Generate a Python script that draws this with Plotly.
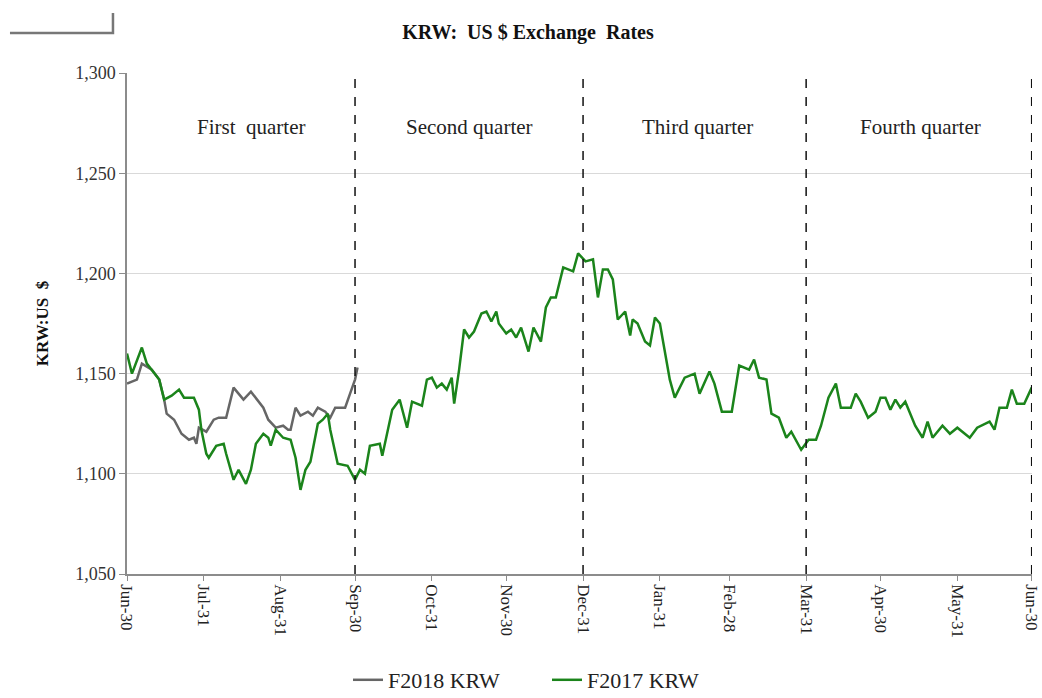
import pandas as pd
import plotly.graph_objects as go

# ---- data ----
start_date = "2016-06-30"

f2017_days = [0, 2, 6, 8, 13, 15, 18, 21, 23, 27, 29, 30, 32, 33, 36, 39, 40, 43, 45, 48, 50, 52, 55, 57, 58, 60,
              63, 66, 68, 70, 72, 74, 77, 79, 81, 82, 85, 89, 92, 94, 96, 98, 102, 103, 107, 110, 113, 115, 119,
              121, 123, 125, 127, 129, 131, 132, 134, 136, 138, 140, 143, 145, 147, 149, 150, 153, 155, 157, 159,
              162, 164, 167, 169, 171, 173, 176, 180, 182, 185, 188, 190, 192, 194, 196, 198, 201, 203, 204, 206,
              209, 211, 213, 215, 219, 221, 225, 229, 231, 235, 237, 240, 244, 247, 251, 253, 255, 258, 260, 263,
              266, 268, 272, 275, 278, 280, 283, 286, 288, 292, 294, 296, 299, 302, 304, 306, 308, 310, 312, 314,
              318, 321, 323, 325, 329, 332, 335, 340, 343, 348, 350, 352, 355, 357, 359, 362, 365]
f2017_krw = [1160, 1150, 1163, 1155, 1147, 1137, 1139, 1142, 1138, 1138, 1132, 1122, 1110, 1108, 1114, 1115, 1110,
             1097, 1102, 1095, 1102, 1115, 1120, 1118, 1114, 1122, 1118, 1117, 1108, 1092, 1102, 1106, 1125, 1127,
             1130, 1122, 1105, 1104, 1097, 1102, 1100, 1114, 1115, 1109, 1132, 1137, 1123, 1136, 1134, 1147, 1148,
             1143, 1145, 1142, 1148, 1135, 1152, 1172, 1168, 1171, 1180, 1181, 1176, 1181, 1175, 1170, 1172, 1168,
             1173, 1161, 1173, 1166, 1183, 1188, 1188, 1203, 1201, 1210, 1206, 1207, 1188, 1202, 1202, 1197, 1177,
             1181, 1169, 1177, 1175, 1166, 1164, 1178, 1175, 1147, 1138, 1148, 1150, 1140, 1151, 1145, 1131, 1131,
             1154, 1152, 1157, 1148, 1147, 1130, 1128, 1118, 1121, 1112, 1117, 1117, 1124, 1138, 1145, 1133, 1133,
             1140, 1136, 1128, 1131, 1138, 1138, 1132, 1137, 1133, 1136, 1124, 1118, 1126, 1118, 1124, 1120, 1123,
             1118, 1123, 1126, 1122, 1133, 1133, 1142, 1135, 1135, 1143]

f2018_days = [0, 4, 6, 10, 13, 15, 16, 19, 22, 25, 27, 28, 29, 32, 35, 37, 40, 43, 45, 47, 50, 52, 55, 57, 60,
              63, 65, 66, 68, 70, 73, 75, 77, 80, 82, 84, 88, 90, 92, 93]
f2018_krw = [1145, 1147, 1155, 1152, 1147, 1137, 1130, 1127, 1120, 1117, 1118, 1115, 1123, 1121, 1127, 1128, 1128,
             1143, 1140, 1137, 1141, 1138, 1133, 1127, 1123, 1124, 1122, 1122, 1133, 1129, 1131, 1129, 1133, 1131,
             1128, 1133, 1133, 1140, 1147, 1153]

tick_dates = ["2016-06-30", "2016-07-31", "2016-08-31", "2016-09-30", "2016-10-31", "2016-11-30", "2016-12-31",
              "2017-01-31", "2017-02-28", "2017-03-31", "2017-04-30", "2017-05-31", "2017-06-30"]
tick_labels = ["Jun-30", "Jul-31", "Aug-31", "Sep-30", "Oct-31", "Nov-30", "Dec-31",
               "Jan-31", "Feb-28", "Mar-31", "Apr-30", "May-31", "Jun-30"]
quarter_ends = ["2016-09-30", "2016-12-31", "2017-03-31", "2017-06-30"]
quarter_labels = ["First  quarter", "Second quarter", "Third quarter", "Fourth quarter"]
quarter_label_pos = ["2016-08-19", "2016-11-15", "2017-02-15", "2017-05-16"]
y_ticks = [1050, 1100, 1150, 1200, 1250, 1300]

# ---- build ----
t0 = pd.Timestamp(start_date)
x2017 = t0 + pd.to_timedelta(f2017_days, unit="D")
x2018 = t0 + pd.to_timedelta(f2018_days, unit="D")

SERIF = "Liberation Serif, Times New Roman, serif"
PLOT_W = 1042 - 127 - 10

fig = go.Figure()
fig.add_trace(go.Scatter(x=x2018, y=f2018_krw, mode="lines", name="F2018 KRW", cliponaxis=False,
                         line=dict(color="#666666", width=2.5)))
fig.add_trace(go.Scatter(x=x2017, y=f2017_krw, mode="lines", name="F2017 KRW", cliponaxis=False,
                         line=dict(color="#1b841b", width=2.5)))

for q in quarter_ends:
    fig.add_shape(type="line", xref="x", yref="paper", x0=q, x1=q, y0=0, y1=1,
                  line=dict(color="#111111", width=1.5, dash="dash"), layer="above")

for lbl, pos in zip(quarter_labels, quarter_label_pos):
    fig.add_annotation(x=pos, y=1273, xref="x", yref="y", text=lbl, showarrow=False,
                       font=dict(family=SERIF, size=21, color="#222222"))

# small decorative corner line at top-left
fig.add_shape(type="path", xref="paper", yref="paper",
              path=f"M {(10 - 127) / PLOT_W:.4f} 1.08 L {(113 - 127) / PLOT_W:.4f} 1.08 L {(113 - 127) / PLOT_W:.4f} 1.12",
              line=dict(color="#777777", width=2.5))

fig.update_layout(
    width=1042, height=698,
    margin=dict(l=127, r=10, t=73, b=124, autoexpand=False),
    paper_bgcolor="white", plot_bgcolor="white",
    title=dict(text="<b>KRW:  US $ Exchange  Rates</b>", x=(528 - 127) / PLOT_W, xref="paper", xanchor="center",
               y=1 - 32 / 698, yanchor="middle", font=dict(family=SERIF, size=20, color="#111111")),
    showlegend=True,
    legend=dict(orientation="h", x=(348 - 127) / PLOT_W, xanchor="left", xref="paper",
                y=1 - 680 / 698, yref="container", yanchor="middle",
                entrywidth=154, entrywidthmode="pixels",
                font=dict(family=SERIF, size=22, color="#222222")),
    xaxis=dict(type="date", range=[tick_dates[0], "2017-06-30 03:00"], tickmode="array",
               tickvals=tick_dates, ticktext=tick_labels, tickangle=90, automargin=False,
               ticklabeloverflow="allow",
               showgrid=False, zeroline=False, showline=True, linecolor="#8c8c8c", linewidth=1.5,
               ticks="outside", ticklen=5, tickcolor="#8c8c8c",
               tickfont=dict(family=SERIF, size=17, color="#222222")),
    yaxis=dict(range=[1050, 1300], tickmode="array", tickvals=y_ticks, automargin=False,
               ticktext=[f"{v:,}" for v in y_ticks],
               showgrid=True, gridcolor="#d9d9d9", gridwidth=1, zeroline=False,
               showline=True, linecolor="#8c8c8c", linewidth=1.5,
               ticks="outside", ticklen=6, tickcolor="#8c8c8c",
               tickfont=dict(family=SERIF, size=18, color="#333333"),
               title=dict(text="<b>KRW:US  $</b>", standoff=22,
                          font=dict(family=SERIF, size=17, color="#111111"))),
)

fig.write_html("out.html", config={"displayModeBar": False},
               post_script="document.body.style.margin='0';document.body.style.overflow='hidden';")
